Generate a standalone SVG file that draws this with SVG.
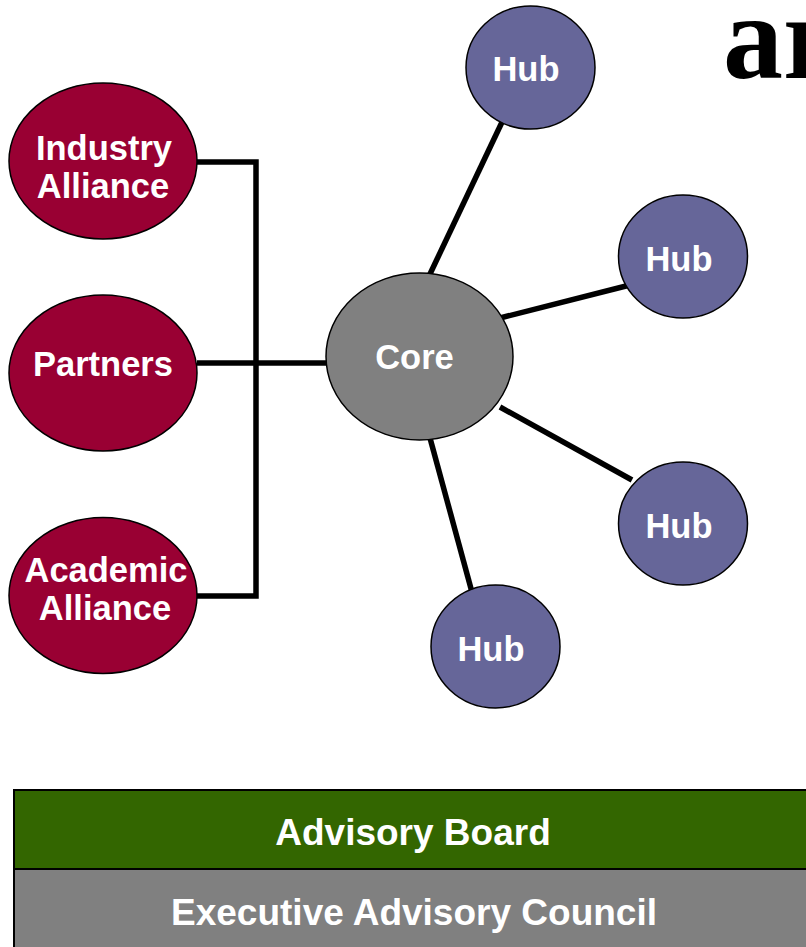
<svg xmlns="http://www.w3.org/2000/svg" width="806" height="947" viewBox="0 0 806 947">
<style>
.lbl{font-family:"Liberation Sans",Arial,sans-serif;font-weight:bold;fill:#fff;text-anchor:middle;font-size:34.5px}
.bar{font-family:"Liberation Sans",Arial,sans-serif;font-weight:bold;fill:#fff;text-anchor:middle;font-size:37px}
.maroon{fill:#990033;stroke:#000;stroke-width:1.5}
.hub{fill:#666699;stroke:#000;stroke-width:1.5}
.core{fill:#808080;stroke:#000;stroke-width:1.5}
.conn{stroke:#000;stroke-width:5.5;fill:none}
</style>
<rect width="806" height="947" fill="#fff"/>
<text x="723" y="78" font-family="'Liberation Serif','Times New Roman',serif" font-weight="bold" font-size="120" fill="#000">ar</text>
<g id="connectors">
<polyline class="conn" points="197,162 256,162 256,596 197,596"/>
<line class="conn" x1="197" y1="363" x2="327" y2="363"/>
<line class="conn" x1="430" y1="274" x2="503" y2="120"/>
<line class="conn" x1="500" y1="318" x2="630" y2="285"/>
<line class="conn" x1="500" y1="407" x2="632" y2="480"/>
<line class="conn" x1="430" y1="438" x2="473" y2="596"/>
</g>
<g id="industry"><ellipse class="maroon" cx="103" cy="161" rx="94" ry="78"/><text class="lbl" x="104" y="160">Industry</text><text class="lbl" x="103" y="198">Alliance</text></g>
<g id="partners"><ellipse class="maroon" cx="103" cy="373" rx="94" ry="78"/><text class="lbl" x="103" y="376">Partners</text></g>
<g id="academic"><ellipse class="maroon" cx="103" cy="595.5" rx="94" ry="78"/><text class="lbl" x="106" y="582">Academic</text><text class="lbl" x="105" y="620">Alliance</text></g>
<g id="core"><ellipse class="core" cx="419.5" cy="356.5" rx="93.5" ry="83.5"/><text class="lbl" x="414.5" y="369">Core</text></g>
<g id="hub1"><ellipse class="hub" cx="530.5" cy="67.5" rx="64.5" ry="61.5"/><text class="lbl" x="526" y="81">Hub</text></g>
<g id="hub2"><ellipse class="hub" cx="683" cy="256.5" rx="64.5" ry="61.5"/><text class="lbl" x="679" y="271">Hub</text></g>
<g id="hub3"><ellipse class="hub" cx="683" cy="523.5" rx="64.5" ry="61.5"/><text class="lbl" x="679" y="538">Hub</text></g>
<g id="hub4"><ellipse class="hub" cx="495.5" cy="646.5" rx="64.5" ry="61.5"/><text class="lbl" x="491" y="661">Hub</text></g>
<g id="advisory-board"><rect x="14" y="790" width="800" height="79" fill="#336600" stroke="#000" stroke-width="2"/><text class="bar" x="413" y="845">Advisory Board</text></g>
<g id="executive-council"><rect x="14" y="869" width="800" height="90" fill="#808080" stroke="#000" stroke-width="2"/><text class="bar" x="414" y="925">Executive Advisory Council</text></g>
</svg>
